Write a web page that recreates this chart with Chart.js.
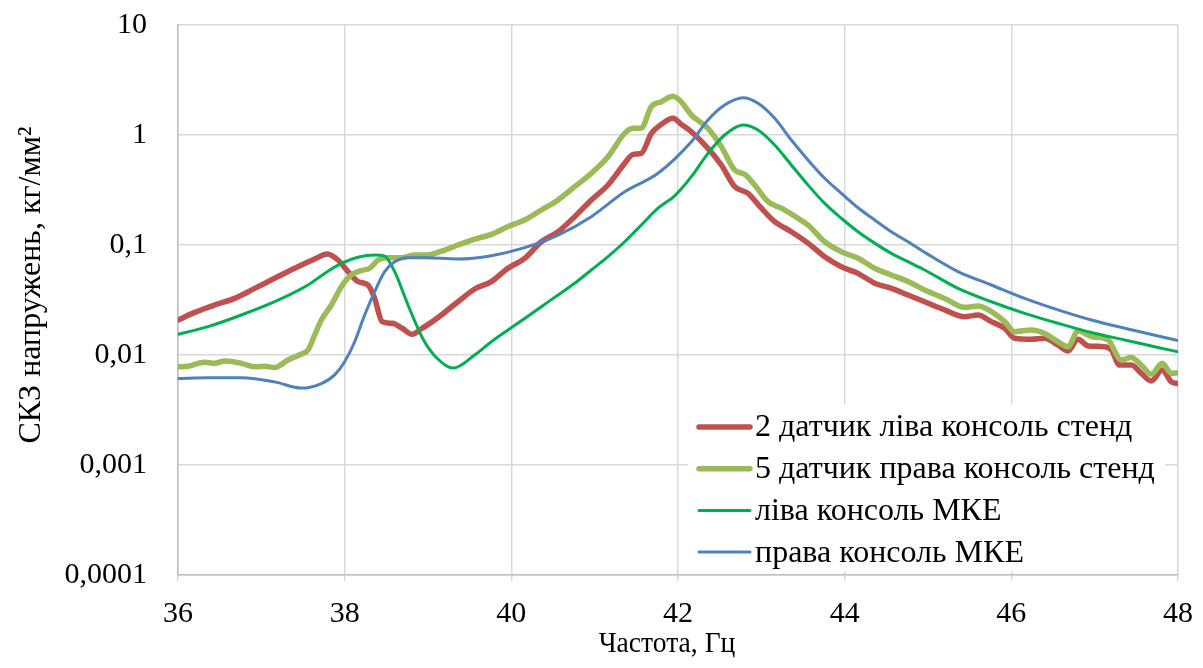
<!DOCTYPE html>
<html><head><meta charset="utf-8">
<script src="https://cdn.jsdelivr.net/npm/chart.js@4/dist/chart.umd.min.js"></script>
<style>html,body{margin:0;padding:0;background:#fff;}#wrap{width:1203px;height:668px;position:relative;}</style>
</head><body><div id="wrap"><canvas id="c" width="1203" height="668"></canvas></div>
<script>
const xTicks = [36, 38, 40, 42, 44, 46, 48];
const yTicks = [0.0001, 0.001, 0.01, 0.1, 1, 10];
const yTickLabels = ["0,0001", "0,001", "0,01", "0,1", "1", "10"];
const seriesNames = ["2 датчик ліва консоль стенд", "5 датчик права консоль стенд", "ліва консоль МКЕ", "права консоль МКЕ"];
const xTitle = "Частота, Гц";
const yTitle = "СКЗ напружень, кг/мм²";

const redFreq = [36.0,36.2,36.44,36.68,36.92,37.16,37.4,37.64,37.79,37.92,38.04,38.16,38.28,38.36,38.45,38.57,38.69,38.81,38.93,39.04,39.16,39.36,39.56,39.76,39.96,40.16,40.36,40.56,40.76,40.96,41.16,41.36,41.46,41.56,41.68,41.8,41.94,42.04,42.16,42.36,42.52,42.68,42.84,43.0,43.16,43.36,43.56,43.76,43.96,44.16,44.36,44.56,44.76,44.96,45.2,45.44,45.6,45.76,45.92,46.04,46.24,46.4,46.56,46.68,46.8,46.92,47.12,47.2,47.3,47.44,47.56,47.68,47.81,47.92,48.0];
const redVal = [0.0208,0.0244,0.0285,0.0327,0.0403,0.0498,0.0614,0.0746,0.0828,0.073,0.0573,0.0465,0.0433,0.0327,0.0201,0.0194,0.0175,0.0154,0.0175,0.0198,0.0231,0.0305,0.0398,0.0465,0.0614,0.0757,0.107,0.132,0.181,0.257,0.351,0.552,0.667,0.681,1.035,1.25,1.42,1.25,1.07,0.757,0.534,0.339,0.295,0.216,0.163,0.132,0.104,0.0783,0.0635,0.0552,0.0449,0.0403,0.0351,0.0305,0.0257,0.0223,0.0231,0.0201,0.0175,0.0142,0.0139,0.0142,0.0123,0.0109,0.0139,0.0121,0.0119,0.0111,0.0081,0.0081,0.0068,0.0058,0.0073,0.0057,0.0055];

const lgreenFreq = [36.0,36.12,36.32,36.44,36.56,36.76,36.92,37.04,37.16,37.32,37.48,37.56,37.64,37.72,37.84,37.96,38.08,38.2,38.3,38.4,38.5,38.68,38.84,38.98,39.2,39.36,39.56,39.76,39.96,40.16,40.36,40.56,40.76,40.96,41.16,41.36,41.46,41.56,41.68,41.8,41.94,42.04,42.16,42.36,42.52,42.68,42.8,42.92,43.08,43.24,43.44,43.56,43.76,43.96,44.16,44.36,44.56,44.76,44.96,45.2,45.44,45.6,45.76,45.92,46.04,46.24,46.4,46.56,46.68,46.8,46.96,47.16,47.32,47.44,47.56,47.68,47.81,47.92,48.0];
const lgreenVal = [0.0078,0.0079,0.0086,0.0084,0.0088,0.0084,0.0078,0.0079,0.0077,0.009,0.0102,0.0111,0.0152,0.0208,0.0285,0.0418,0.0534,0.0585,0.0614,0.073,0.0767,0.0767,0.081,0.081,0.09,0.1,0.113,0.125,0.147,0.169,0.208,0.257,0.339,0.449,0.635,1.035,1.15,1.16,1.81,2.01,2.25,2.0,1.52,1.15,0.783,0.481,0.439,0.351,0.248,0.216,0.175,0.152,0.107,0.0869,0.0757,0.0614,0.0534,0.0465,0.039,0.0327,0.0271,0.0279,0.0248,0.0201,0.0163,0.0169,0.0157,0.0132,0.0119,0.0166,0.0147,0.0137,0.009,0.0095,0.0081,0.0067,0.0084,0.0068,0.0069];

const greenFreq = [36.0,36.36,36.76,37.16,37.56,37.76,37.96,38.16,38.36,38.48,38.6,38.76,38.94,39.1,39.3,39.56,39.76,39.96,40.16,40.36,40.56,40.76,40.96,41.16,41.36,41.56,41.76,41.96,42.16,42.36,42.56,42.78,42.96,43.16,43.36,43.56,43.76,43.96,44.16,44.36,44.56,44.76,44.96,45.36,45.76,46.16,46.56,46.96,47.36,47.76,48.0];
const greenVal = [0.0154,0.0181,0.0231,0.0305,0.0433,0.0552,0.068,0.0773,0.081,0.079,0.0573,0.0285,0.014,0.0095,0.0076,0.01,0.0132,0.0169,0.0215,0.0275,0.0351,0.0449,0.0593,0.0783,0.107,0.152,0.216,0.28,0.418,0.681,1.0,1.23,1.11,0.811,0.534,0.351,0.239,0.175,0.132,0.104,0.0839,0.0705,0.0593,0.0403,0.0305,0.0239,0.0194,0.016,0.0137,0.0117,0.0107];

const blueFreq = [36.0,36.36,36.76,37.16,37.48,37.72,37.88,38.0,38.12,38.24,38.36,38.48,38.6,38.76,38.96,39.36,39.76,40.16,40.56,40.96,41.36,41.76,42.16,42.36,42.56,42.78,42.96,43.16,43.36,43.56,43.76,43.96,44.16,44.36,44.56,44.76,44.98,45.36,45.76,46.16,46.56,46.96,47.36,47.76,48.0];
const blueVal = [0.0061,0.0062,0.0062,0.0057,0.005,0.0055,0.0066,0.0087,0.0132,0.0231,0.0377,0.0573,0.0705,0.0767,0.0767,0.0746,0.08,0.0946,0.123,0.181,0.305,0.449,0.869,1.37,1.87,2.18,1.94,1.42,0.9,0.593,0.404,0.295,0.218,0.169,0.132,0.107,0.0839,0.0573,0.0433,0.0327,0.0257,0.0208,0.0175,0.0149,0.0135];

const FONT = '"Liberation Serif", "Times New Roman", serif';
const colors = ['#C0504D', '#9BBB59', '#00B050', '#4F81BD'];
const widths = [5.5, 5.5, 3, 3];

function pts(fs, vs) { return fs.map((f, i) => ({ x: f, y: vs[i] })); }
const seriesData = [pts(redFreq, redVal), pts(lgreenFreq, lgreenVal), pts(greenFreq, greenVal), pts(blueFreq, blueVal)];

const datasets = seriesData.map((d, i) => ({
  label: seriesNames[i],
  data: d,
  borderColor: colors[i],
  backgroundColor: colors[i],
  borderWidth: widths[i],
  pointRadius: 0,
  fill: false,
  cubicInterpolationMode: 'monotone',
  borderCapStyle: 'round',
  borderJoinStyle: 'round',
  order: 4 - i
}));

const legendPlugin = {
  id: 'customLegend',
  afterDatasetsDraw(chart) {
    const ctx = chart.ctx;
    ctx.save();
    ctx.fillStyle = '#ffffff';
    ctx.fillRect(688, 404, 477, 167);
    seriesNames.forEach((name, i) => {
      const y = 427 + i * 41.7;
      ctx.strokeStyle = colors[i];
      ctx.lineWidth = widths[i];
      ctx.lineCap = 'round';
      ctx.beginPath();
      ctx.moveTo(699, y);
      ctx.lineTo(750, y);
      ctx.stroke();
      ctx.fillStyle = '#000';
      ctx.font = '32px ' + FONT;
      ctx.textBaseline = 'middle';
      ctx.textAlign = 'left';
      ctx.fillText(name, 755, y + 1);
    });
    ctx.restore();
  },
  afterDraw(chart) {
    const ctx = chart.ctx;
    ctx.save();
    ctx.fillStyle = '#000';
    ctx.textAlign = 'center';
    ctx.textBaseline = 'alphabetic';
    ctx.save();
    ctx.translate(667, 652);
    ctx.scale(0.92, 1);
    ctx.font = '30px ' + FONT;
    ctx.fillText(xTitle, 0, 0);
    ctx.restore();
    ctx.translate(40, 285);
    ctx.rotate(-Math.PI / 2);
    ctx.font = '32px ' + FONT;
    ctx.fillText(yTitle, 0, 0);
    ctx.restore();
  }
};

new Chart(document.getElementById('c'), {
  type: 'line',
  data: { datasets },
  plugins: [legendPlugin],
  options: {
    responsive: false,
    animation: false,
    events: [],
    layout: { padding: { top: 25, right: 25, left: 0, bottom: 0 } },
    plugins: { legend: { display: false }, tooltip: { enabled: false } },
    scales: {
      x: {
        type: 'linear', min: 36, max: 48,
        afterBuildTicks: (ax) => { ax.ticks = xTicks.map(v => ({ value: v })); },
        afterFit: (ax) => { ax.height = 93; ax.paddingLeft = 15; ax.paddingRight = 15; },
        ticks: { font: { family: FONT, size: 30 }, color: '#000', padding: 15, maxRotation: 0, callback: (v) => String(v) },
        grid: { color: '#D9D9D9', lineWidth: 1.5, tickLength: 6 },
        border: { color: '#BFBFBF', width: 1.5 }
      },
      y: {
        type: 'logarithmic', min: 0.0001, max: 10,
        afterBuildTicks: (ax) => { ax.ticks = yTicks.map(v => ({ value: v })); },
        afterFit: (ax) => { ax.width = 178; ax.paddingTop = 18; ax.paddingBottom = 18; },
        ticks: {
          font: { family: FONT, size: 30 }, color: '#000', padding: 31,
          callback: (v) => { const i = yTicks.findIndex(t => Math.abs(t - v) / t < 1e-6); return i >= 0 ? yTickLabels[i] : ''; }
        },
        grid: { color: '#D9D9D9', lineWidth: 1.5, drawTicks: false },
        border: { color: '#BFBFBF', width: 1.5 }
      }
    }
  }
});
</script></body></html>
